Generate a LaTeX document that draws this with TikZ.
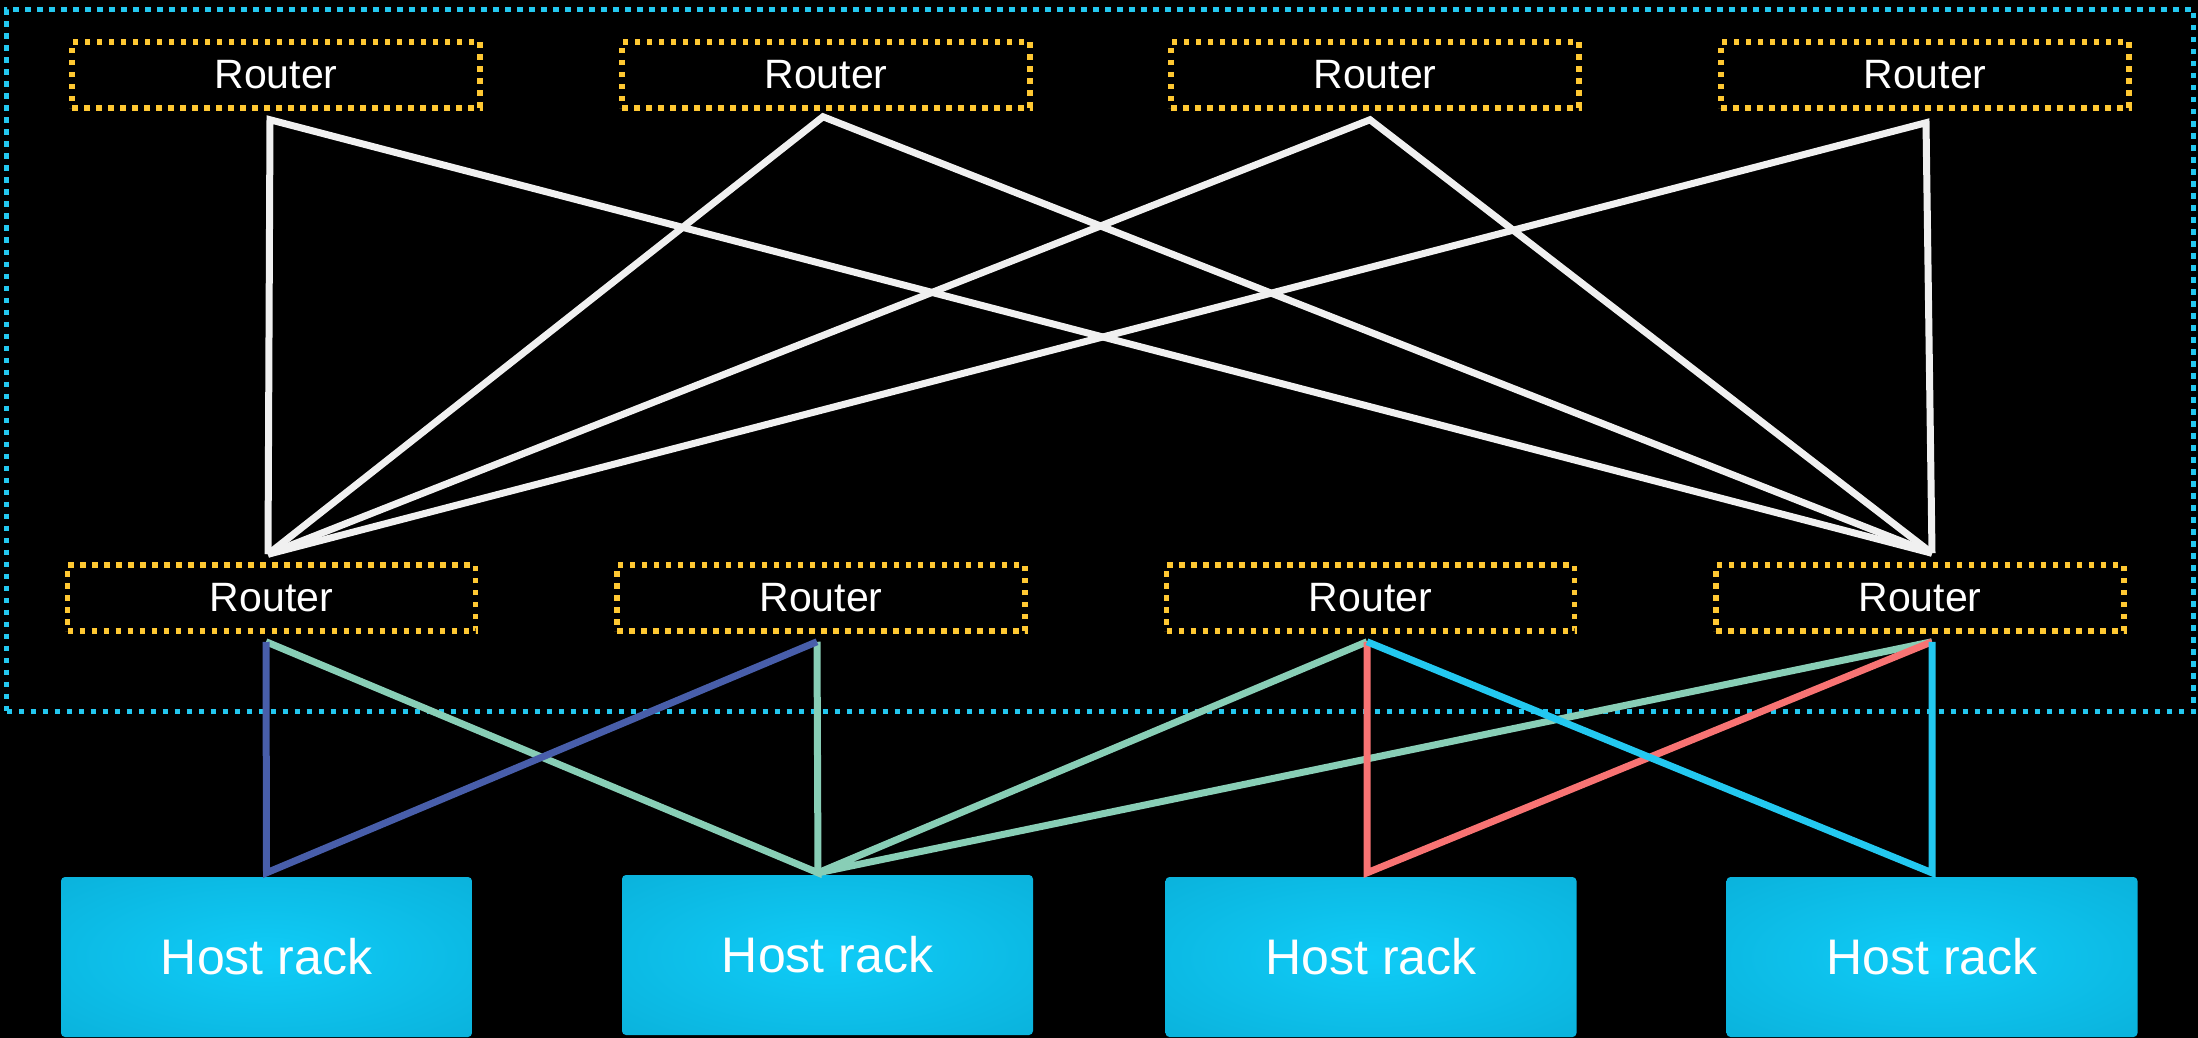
\documentclass[tikz,border=0pt]{standalone}
\usepackage{fontspec}
\setmainfont{Liberation Sans}
\usetikzlibrary{calc}

\definecolor{framecyan}{RGB}{35,200,240}
\definecolor{routergold}{RGB}{255,200,50}
\definecolor{linkwhite}{RGB}{240,240,240}
\definecolor{linkblue}{RGB}{72,94,170}
\definecolor{linkgreen}{RGB}{136,206,182}
\definecolor{linkred}{RGB}{248,115,115}
\definecolor{linkcyan}{RGB}{35,200,240}

% bright centre fading to a deeper teal towards the rack edges
\pgfdeclareradialshading{rackglow}{\pgfpoint{0bp}{0bp}}{%
  rgb(0bp)=(0.06,0.80,0.97);
  rgb(50bp)=(0.035,0.66,0.82);
  rgb(72bp)=(0.024,0.58,0.74)}

\begin{document}
\begin{tikzpicture}[x=1pt,y=-1pt,
  dotted frame/.style={line width=5.5pt, dash pattern=on 5.5pt off 6.5pt},
  router/.style={draw=routergold, dotted frame, minimum width=408pt,
    minimum height=66pt, inner sep=0pt, text=white,
    font=\fontsize{41}{48}\selectfont},
  rack/.style={rounded corners=4pt, shading=rackglow, minimum width=411pt,
    minimum height=160pt, inner sep=0pt, text=white,
    font=\fontsize{50}{60}\selectfont},
  spine/.style={draw=linkwhite, line width=7pt, line join=miter},
  link/.style={line width=7pt, line join=miter},
]
% page and background
\fill[black] (0,0) rectangle (2198,1038);
\useasboundingbox (0,0) rectangle (2198,1038);

% network fabric boundary
\node[draw=framecyan, dotted frame, minimum width=2187pt, minimum height=702pt,
  inner sep=0pt] (fabric) at (1100,360.5) {};

% spine routers
\node[router] (t1) at (276,75)  {Router};
\node[router] (t2) at (826,75)  {Router};
\node[router] (t3) at (1375,75) {Router};
\node[router] (t4) at (1925,75) {Router};

% leaf routers
\node[router] (b1) at (271.5,598)  {Router};
\node[router] (b2) at (821,598)    {Router};
\node[router] (b3) at (1370.5,598) {Router};
\node[router] (b4) at (1920,598)   {Router};

% host racks
\node[rack] (h1) at (266.5,957) {Host rack};
\node[rack] (h2) at (827.5,955) {Host rack};
\node[rack] (h3) at (1371,957)  {Host rack};
\node[rack] (h4) at (1932,957)  {Host rack};

% connector end points just outside the boxes
\coordinate (t1d) at ([xshift=-6pt,yshift=-9pt]t1.south);
\coordinate (t2d) at ([xshift=-3pt,yshift=-6pt]t2.south);
\coordinate (t3d) at ([xshift=-5pt,yshift=-9pt]t3.south);
\coordinate (t4d) at ([xshift=1pt,yshift=-12pt]t4.south);

\coordinate (b1u) at ([xshift=-3.5pt,yshift=8pt]b1.north);
\coordinate (b4u) at ([xshift=12pt,yshift=9pt]b4.north);

\coordinate (b1d) at ([xshift=-5.5pt,yshift=-8pt]b1.south);
\coordinate (b2d) at ([xshift=-4pt,yshift=-8pt]b2.south);
\coordinate (b3d) at ([xshift=-3.5pt,yshift=-8pt]b3.south);
\coordinate (b4d) at ([xshift=12pt,yshift=-8pt]b4.south);

\coordinate (h1u) at ([yshift=4pt]h1.north);
\coordinate (h2u) at ([xshift=-9.5pt,yshift=2pt]h2.north);
\coordinate (h3u) at ([xshift=-4pt,yshift=4pt]h3.north);
\coordinate (h4u) at ([yshift=4pt]h4.north);

% spine to leaf mesh
\draw[spine] (b1u) -- (t1d) -- (b4u);
\draw[spine] (b1u) -- (t2d) -- (b4u);
\draw[spine] (b1u) -- (t3d) -- (b4u);
\draw[spine] (b1u) -- (t4d) -- (b4u);

% leaf to rack links
\draw[link, linkgreen] (b1d) -- (h2u) -- (b2d);
\draw[link, linkgreen] (b3d) -- (h2u) -- (b4d);
\draw[link, linkblue]  (b1d) -- (h1u) -- (b2d);
\draw[link, linkred]   (b3d) -- (h3u) -- (b4d);
\draw[link, linkcyan]  (b3d) -- (h4u) -- (b4d);
\end{tikzpicture}
\end{document}
